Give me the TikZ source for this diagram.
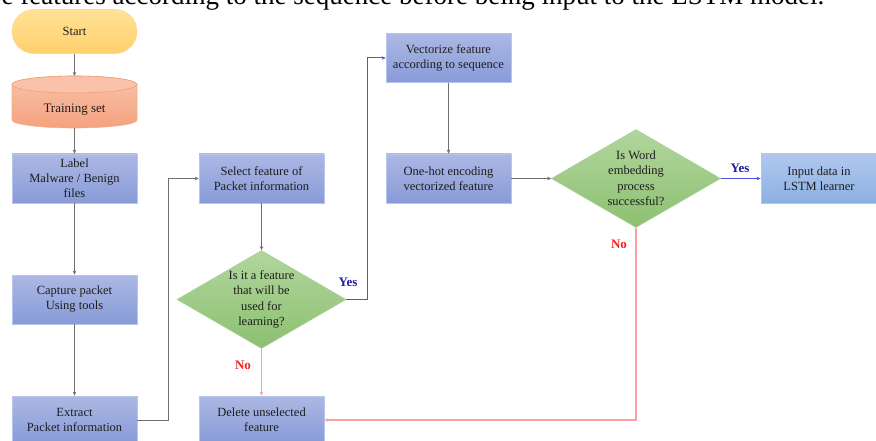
\documentclass[tikz,border=0pt]{standalone}
\usepackage{fontspec}
\setmainfont{Liberation Serif}
\usetikzlibrary{shapes.geometric,arrows.meta}
\definecolor{boxtop}{RGB}{172,184,228}
\definecolor{boxbot}{RGB}{136,155,216}
\definecolor{boxedge}{RGB}{184,196,234}
\definecolor{intop}{RGB}{176,200,238}
\definecolor{inbot}{RGB}{140,176,226}
\definecolor{dmtop}{RGB}{178,214,158}
\definecolor{dmbot}{RGB}{140,192,112}
\definecolor{dmedge}{RGB}{170,208,150}
\definecolor{sttop}{RGB}{255,226,150}
\definecolor{stbot}{RGB}{255,208,108}
\definecolor{stedge}{RGB}{255,214,150}
\definecolor{cytop}{RGB}{250,194,170}
\definecolor{cybot}{RGB}{244,162,126}
\definecolor{cyedge}{RGB}{240,160,120}
\definecolor{txt}{RGB}{30,30,30}
\definecolor{lgray}{RGB}{110,110,110}
\definecolor{lblue}{RGB}{80,80,225}
\definecolor{lred}{RGB}{255,160,160}
\definecolor{yesc}{RGB}{30,30,160}
\definecolor{noc}{RGB}{250,30,30}
\tikzset{
  procbox/.style={rectangle, minimum width=125pt, minimum height=49pt,
    top color=boxtop, bottom color=boxbot, draw=boxedge, line width=0.6pt,
    align=center, font=\fontsize{12.5}{15}\selectfont, text=txt, inner sep=0pt},
  inbox/.style={procbox, top color=intop, bottom color=inbot, draw=intop, minimum width=116pt},
  decis/.style={diamond, aspect=1.72, minimum width=169pt, minimum height=98pt,
    top color=dmtop, bottom color=dmbot, draw=dmedge, line width=0.6pt,
    align=center, font=\fontsize{12.5}{15.5}\selectfont, text=txt, inner sep=0pt},
  startbox/.style={rectangle, rounded corners=22pt, minimum width=125pt, minimum height=44pt,
    top color=sttop, bottom color=stbot, draw=stedge, line width=0.6pt,
    font=\fontsize{12.5}{15}\selectfont, text=txt, inner sep=0pt},
  conn/.style={draw=lgray, line width=1pt, -{Stealth[length=4pt,width=3.5pt]}},
  yesln/.style={draw=lblue, line width=1pt, -{Stealth[length=4pt,width=3.5pt]}},
  noln/.style={draw=lred, line width=1.2pt, -{Stealth[length=4pt,width=3.5pt]}},
  yeslbl/.style={font=\bfseries\fontsize{13}{15}\selectfont, text=yesc, inner sep=0pt},
  nolbl/.style={font=\bfseries\fontsize{13}{15}\selectfont, text=noc, inner sep=0pt}
}
\begin{document}
\begin{tikzpicture}[x=1pt,y=-1pt]
\useasboundingbox (0,0) rectangle (876,441);
\clip (0,0) rectangle (876,441);
% caption fragment (cut by the top edge, as in the reference)
\node[anchor=base west, inner sep=0pt, font=\fontsize{27}{30}\selectfont, text=black] (cap) at (-12,4.7)
  {be features according to the sequence before being input to the LSTM model.};
% start
\node[startbox] (start) at (74.5,31.5) {Start};
% training set cylinder
\shade[top color=cytop, bottom color=cybot, draw=cyedge!60!cytop, line width=0.6pt]
  (12,84.5) -- (12,120) arc[start angle=180, end angle=0, x radius=62.5, y radius=8]
  -- (137,84.5) arc[start angle=0, end angle=-180, x radius=62.5, y radius=8.5] -- cycle;
\draw[cyedge, line width=0.6pt, fill=cytop] (74.5,84.5) ellipse[x radius=62.5, y radius=8.5];
\node[font=\fontsize{13}{15}\selectfont, text=txt, minimum width=125pt, minimum height=30pt, inner sep=0pt] (train) at (74.5,110) {Training set};
% left column
\node[procbox] (label) at (74.5,178.5) {Label\\Malware / Benign\\files};
\node[procbox] (capture) at (74.5,299.5) {Capture packet\\Using tools};
\node[procbox, minimum height=48pt] (extract) at (74.5,420) {Extract\\Packet information};
% middle column
\node[procbox] (select) at (261.5,178.5) {Select feature of\\Packet information};
\node[decis] (d1) at (261.5,299.5) {Is it a feature\\that will be\\used for\\learning?};
\node[procbox, minimum height=48pt] (delete) at (261.5,420) {Delete unselected\\feature};
% right column
\node[procbox] (vector) at (448.5,58) {Vectorize feature\\according to sequence};
\node[procbox] (onehot) at (448.5,178.5) {One-hot encoding\\vectorized feature};
\node[decis] (d2) at (636,178.5) {Is Word\\embedding\\process\\successful?};
\node[inbox] (input) at (819,178.5) {Input data in\\LSTM learner};
% connectors
\coordinate (cyltop) at (74.5,76);
\coordinate (cylbot) at (74.5,128);
\draw[conn] (start.south) -- (cyltop);
\draw[conn] (cylbot) -- (label.north);
\draw[conn] (label.south) -- (capture.north);
\draw[conn] (capture.south) -- (extract.north);
\coordinate (ex1) at (168,420);
\draw[conn] (extract.east) -- (ex1) |- (select.west);
\draw[conn] (select.south) -- (d1.north);
\coordinate (y1) at (367,299.5);
\draw[yesln] (d1.east) -- (y1) |- (vector.west);
\draw[noln] (d1.south) -- (delete.north);
\draw[conn] (vector.south) -- (onehot.north);
\draw[conn] (onehot.east) -- (d2.west);
\draw[yesln] (d2.east) -- (input.west);
\coordinate (n2) at (636,420);
\draw[noln] (d2.south) -- (n2) -- (delete.east);
% labels
\node[yeslbl] (yes1) at (348,282) {Yes};
\node[nolbl] (no1) at (243,365) {No};
\node[yeslbl] (yes2) at (740,168) {Yes};
\node[nolbl] (no2) at (619,244) {No};
\end{tikzpicture}
\end{document}
